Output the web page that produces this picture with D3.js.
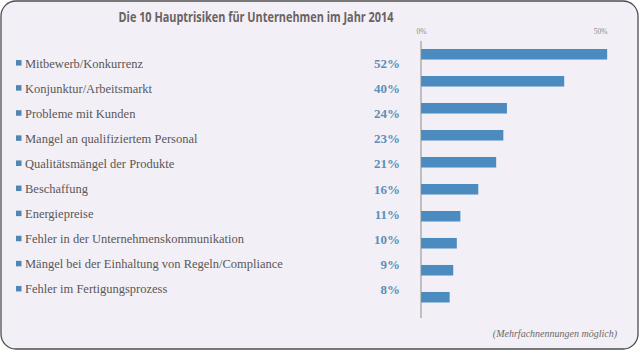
<!DOCTYPE html>
<html>
<head>
<meta charset="utf-8">
<script src="https://cdn.jsdelivr.net/npm/d3@7"></script>
<style>
  body { margin: 0; background: #ffffff; }
  svg { display: block; }
</style>
</head>
<body>
<svg></svg>
<script>
var width = 640, height = 352;
var serif = "'Liberation Serif', 'Times New Roman', 'DejaVu Serif', serif";

var title = "Die 10 Hauptrisiken für Unternehmen im Jahr 2014";
var note = "(Mehrfachnennungen möglich)";

var categories = [
	"Mitbewerb/Konkurrenz",
	"Konjunktur/Arbeitsmarkt",
	"Probleme mit Kunden",
	"Mangel an qualifiziertem Personal",
	"Qualitätsmängel der Produkte",
	"Beschaffung",
	"Energiepreise",
	"Fehler in der Unternehmenskommunikation",
	"Mängel bei der Einhaltung von Regeln/Compliance",
	"Fehler im Fertigungsprozess"
];
var values = [52, 40, 24, 23, 21, 16, 11, 10, 9, 8];
var ticks = [0, 50];

var svg = d3.select("svg")
	.attr("width", width)
	.attr("height", height);

// card
svg.append("rect")
	.attr("x", 1).attr("y", 1)
	.attr("width", 637).attr("height", 348)
	.attr("rx", 15).attr("ry", 15)
	.attr("fill", "#f2f0f6")
	.attr("stroke", "#4d4d4f")
	.attr("stroke-width", 1.3);

svg.append("text")
	.attr("x", 256).attr("y", 22)
	.attr("text-anchor", "middle")
	.attr("font-family", "'Open Sans', sans-serif")
	.attr("font-weight", 700)
	.attr("font-size", 15)
	.attr("fill", "#6a6263")
	.attr("textLength", 275)
	.attr("lengthAdjust", "spacingAndGlyphs")
	.text(title);

var x = d3.scaleLinear()
	.domain([0, 50])
	.range([421, 600]);

// bars and labels sit on slightly different row grids
var yBar = d3.scaleBand()
	.domain(categories)
	.range([49, 302.5])
	.paddingInner(0.61)
	.paddingOuter(0);

var yLab = d3.scaleBand()
	.domain(categories)
	.range([50.5, 301.5]);

var axis = svg.append("g")
	.attr("transform", "translate(0,37)")
	.call(d3.axisTop(x).tickValues(ticks).tickSize(0).tickFormat(function(d) { return d + "%"; }));
axis.select(".domain").remove();
axis.selectAll("text")
	.attr("font-family", serif)
	.attr("font-size", 7.5)
	.attr("fill", "#8a8a8a")
	.attr("dy", 0);

svg.append("g").selectAll("rect")
	.data(values)
	.enter()
	.append("rect")
	.attr("x", x(0))
	.attr("y", function(d, i) { return yBar(categories[i]); })
	.attr("width", function(d) { return x(d) - x(0); })
	.attr("height", yBar.bandwidth())
	.attr("fill", "#4b8bbf");

svg.append("line")
	.attr("x1", x(0)).attr("x2", x(0))
	.attr("y1", 41).attr("y2", 318)
	.attr("stroke", "#8c8c8c")
	.attr("stroke-width", 1);

var rows = svg.append("g").selectAll("g")
	.data(categories)
	.enter()
	.append("g")
	.attr("transform", function(d) { return "translate(0," + (yLab(d) + yLab.bandwidth() / 2) + ")"; });

rows.append("rect")
	.attr("x", 16).attr("y", -3)
	.attr("width", 5.5).attr("height", 5.5)
	.attr("fill", "#4f86b3");

rows.append("text")
	.attr("x", 25).attr("y", 4.5)
	.attr("font-family", serif)
	.attr("font-size", 12.5)
	.attr("fill", "#5b5657")
	.text(function(d) { return d; });

rows.append("text")
	.attr("x", 400).attr("y", 5)
	.attr("text-anchor", "end")
	.attr("font-family", serif)
	.attr("font-weight", "bold")
	.attr("font-size", 13)
	.attr("fill", "#5d8fb8")
	.text(function(d, i) { return values[i] + "%"; });

svg.append("text")
	.attr("x", 617).attr("y", 337)
	.attr("text-anchor", "end")
	.attr("font-family", serif)
	.attr("font-style", "italic")
	.attr("font-size", 10)
	.attr("fill", "#6c6869")
	.text(note);
</script>
</body>
</html>
